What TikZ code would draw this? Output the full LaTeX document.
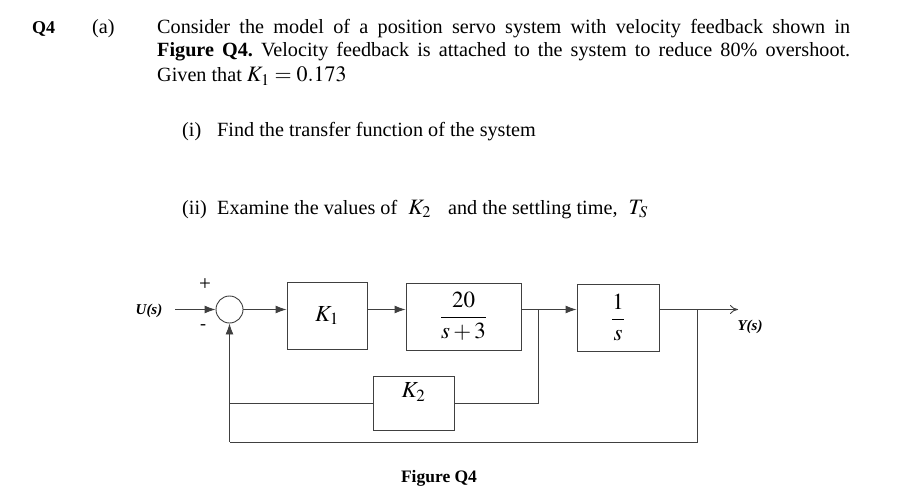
\documentclass[tikz,border=0pt]{standalone}
\usepackage{amsmath}
\usepackage{mathptmx}
\usepackage{fontspec}
\setmainfont{Liberation Serif}
\usetikzlibrary{arrows.meta,calc}
\newcommand{\mbig}[1]{{\fontsize{22}{26}\selectfont$#1$}}
\newcommand{\mblk}[1]{{\fontsize{23}{27}\selectfont$#1$}}
\frenchspacing
\begin{document}
\begin{tikzpicture}[x=1pt,y=-1pt,
  txt/.style={anchor=base west,inner sep=0pt,font=\fontsize{20.2}{24}\selectfont},
  blk/.style={draw=black!75,line width=0.9pt,inner sep=0pt},
  wire/.style={draw=black!75,line width=0.9pt},
  arr/.style={wire,-{Latex[length=11pt,width=8pt]}},
  lbl/.style={inner sep=0pt,font=\fontsize{15}{18}\selectfont\bfseries\itshape}]
\useasboundingbox (0,0) rectangle (899,500);
% question text
\node[txt,font=\fontsize{18}{21}\selectfont\bfseries] (q) at (32,34) {Q4};
\node[txt] (a) at (92,34) {(a)};
\node[txt] (l1) at (157,34) {\makebox[693pt][s]{Consider the model of a position servo system with velocity feedback shown in}};
\node[txt] (l2) at (157,57) {\makebox[693pt][s]{\textbf{Figure Q4.} Velocity feedback is attached to the system to reduce 80\% overshoot.}};
\node[txt] (l3) at (157,82) {Given that \mbig{K_1 = 0.173}};
\node[txt] (i) at (182,136) {(i)};
\node[txt] (it) at (217,136) {Find the transfer function of the system};
\node[txt] (ii) at (182,214) {(ii)};
\node[txt] (iit) at (217,214) {Examine the values of\hspace{6pt} \mbig{K_2}\hspace{12pt} and the settling time,\hspace{6pt} \mbig{T_S}};
% diagram
\node[circle,draw=black!75,line width=0.9pt,minimum size=27pt,inner sep=0pt] (sum) at (229.5,309.5) {};
\node[blk,minimum width=80pt,minimum height=67pt] (k1) at (327,315.5) {\mblk{K_1}};
\node[blk,minimum width=115pt,minimum height=67pt] (g) at (463.5,316.5) {\mblk{\dfrac{20}{s+3}}};
\node[blk,minimum width=82pt,minimum height=67pt] (int) at (618,317.5) {\mblk{\dfrac{1}{s}}};
\node[blk,minimum width=81pt,minimum height=54pt] (k2) at (413.5,403) {};
\node[inner sep=0pt] (k2t) at ([yshift=11pt]k2.center) {\mblk{K_2}};
\node[lbl] (u) at (149,311) {U(s)};
\node[lbl] (y) at (750,327) {Y(s)};
\node[inner sep=0pt,font=\fontsize{21}{22}\selectfont] (plus) at (205,285) {+};
\node[inner sep=0pt,font=\fontsize{18}{20}\selectfont] (minus) at (203,327) {-};
\coordinate (uin) at (175,309.5);
\coordinate (b1) at (538,309.5);
\coordinate (b2) at (697,309.5);
\coordinate (yout) at (738,309.5);
\coordinate (fb) at (229.5,442);
\draw[arr] (uin) -- (sum.west);
\draw[arr] (sum.east) -- (sum.east -| k1.west);
\draw[arr] (k1.east |- sum) -- (g.west |- sum);
\draw[arr] (g.east |- sum) -- (int.west |- sum);
\draw[wire,-{To[length=8pt,width=9pt]}] (int.east |- sum) -- (yout);
\draw[wire] (b1) |- (k2.east);
\draw[wire] (k2.west) -- (k2.west -| fb);
\draw[wire] (b2) |- (fb);
\draw[arr] (fb) -- (sum.south);
\node[inner sep=0pt,anchor=base,font=\fontsize{17.5}{20}\selectfont\bfseries] (fig) at (439,482) {Figure Q4};
\end{tikzpicture}
\end{document}
